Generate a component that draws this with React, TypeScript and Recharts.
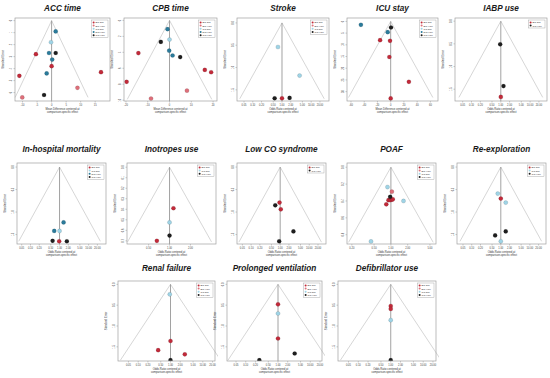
import { ScatterChart, Scatter, XAxis, YAxis, ReferenceLine } from "recharts";

// comparison groups shown in the legends
const comparisons = ["BC-DN", "BC-HTK", "CC-DN", "DN-HTK", "CC-HTK"];
const comparisonColors = ["#c22a3a", "#de6f7a", "#9fd4e6", "#2b7b9b", "#1e1e1e"];

// odds-ratio axis labels (plotted on the log scale)
const orTicks = [0.05, 0.1, 0.2, 0.5, 1, 2, 5, 10, 20];

// points: [effect centered at comparison estimate, standard error, comparison index]
const accTime = [[1.4, 0.9, 3], [-0.2, 1.8, 2], [-0.9, 2.7, 3], [1.4, 2.7, 4], [-5.4, 2.8, 0], [0.2, 3.25, 3], [0, 3.8, 0], [-1.7, 4.4, 3], [-11.1, 4.6, 0], [17, 4.3, 0], [8.9, 5.6, 1], [-10.1, 6.4, 1], [-2.6, 6.2, 4]];
const cpbTime = [[-0.9, 1.1, 3], [-4, 2.7, 4], [0, 2.4, 2], [-0.15, 3.8, 3], [1.4, 4.4, 3], [4.9, 4.6, 4], [-14.3, 4.1, 0], [16.2, 6.2, 0], [19.1, 6.5, 0], [-19.7, 7.7, 0], [8, 8.8, 1], [-8.5, 9.8, 1]];
const stroke = [[-0.32, 0.54, 2], [1.39, 1.18, 2], [-0.58, 1.69, 4], [0, 1.69, 0], [0.6, 1.68, 4]];
const icuStay = [[-45, 1.45, 3], [0.5, 2.6, 4], [-4.5, 4.6, 3], [52.5, 5.8, 3], [-16, 8, 0], [-1, 8.3, 0], [-2, 15.2, 0], [27.5, 25.8, 0], [0, 32.9, 0]];
const iabpUse = [[-0.05, 0.51, 4], [0.21, 1.43, 4], [0, 1.67, 0]];
const mortality = [[0.32, 1.23, 3], [-0.42, 1.42, 3], [0, 1.42, 2], [-0.55, 1.64, 4], [-0.03, 1.65, 0], [0.58, 1.65, 4]];
const inotropes = [[0.13, 0.39, 0], [0, 0.525, 2], [0, 0.65, 4], [-0.42, 0.7, 0]];
const lowCo = [[-0.05, 0.79, 0], [-0.39, 0.85, 4], [0.05, 0.94, 0], [1.05, 1.43, 4], [-0.08, 1.65, 4]];
const poaf = [[-0.14, 0.235, 2], [0.04, 0.29, 1], [-0.03, 0.35, 4], [-0.1, 0.39, 0], [-0.03, 0.39, 0], [0.04, 0.385, 0], [0.08, 0.38, 0], [-0.19, 0.44, 0], [0.52, 0.4, 2], [-0.82, 0.88, 2]];
const reexploration = [[-0.24, 0.59, 2], [0, 0.7, 0], [0.39, 0.79, 2], [0.39, 1.43, 4], [-0.45, 1.52, 4], [0, 1.65, 2]];
const renalFailure = [[-0.05, 0.24, 2], [0, 1.36, 0], [-0.88, 1.58, 0], [1.02, 1.68, 0], [0, 1.82, 4]];
const ventilation = [[0, 0.48, 0], [0, 0.7, 2], [0, 1.3, 0], [1.19, 1.66, 4], [-1.33, 1.82, 4]];
const defibrillator = [[0, 0.52, 0], [0, 0.59, 0], [0, 0.86, 2], [0, 1.82, 4]];

const seHalf = [0, 0.5, 1, 1.5];

const panels = [
  { title: "ACC time", md: true, box: [15, 18, 95, 83], titleY: 9, x: [-12.6, 20.1], xTicks: [-10, -5, 0, 5, 10, 15], y: [-0.22, 6.7], yTicks: [0, 1, 2, 3, 4, 5, 6], seMax: 6.4, points: accTime, legend: [0, 1, 2, 3, 4] },
  { title: "CPB time", md: true, box: [124, 18, 93, 83], titleY: 9, x: [-20.9, 21.8], xTicks: [-20, -10, 0, 10, 20], y: [-0.3, 10.1], yTicks: [0, 2, 4, 6, 8, 10], seMax: 9.9, points: cpbTime, legend: [0, 1, 2, 3, 4] },
  { title: "Stroke", box: [237, 18, 92, 83], titleY: 9, x: [-3.55, 3.71], y: [-0.11, 1.75], yTicks: seHalf, seMax: 1.7, points: stroke, legend: [0, 1, 2, 4] },
  { title: "ICU stay", md: true, box: [347, 18, 91, 83], titleY: 9, x: [-66, 71.5], xTicks: [-60, -40, -20, 0, 20, 40, 60], y: [-1.45, 34], yTicks: [0, 5, 10, 15, 20, 25, 30], seMax: 32.5, points: icuStay, legend: [0, 1, 2, 3, 4] },
  { title: "IABP use", box: [455, 18, 92, 83], titleY: 9, x: [-3.6, 3.63], y: [-0.07, 1.76], yTicks: seHalf, seMax: 1.68, points: iabpUse, legend: [0, 4] },
  { title: "In-hospital mortality", box: [17, 163, 89, 81], titleY: 150, x: [-3.37, 3.68], y: [-0.09, 1.71], yTicks: seHalf, seMax: 1.65, points: mortality, legend: [0, 2, 3, 4] },
  { title: "Inotropes use", box: [127, 163, 89, 81], titleY: 150, x: [-1.41, 1.54], orTicks: [0.5, 1, 2], y: [-0.04, 0.73], yTicks: [0, 0.1, 0.2, 0.3, 0.4, 0.5, 0.6, 0.7], seMax: 0.71, points: inotropes, legend: [0, 2, 4] },
  { title: "Low CO syndrome", box: [237, 163, 89, 81], titleY: 150, x: [-3.42, 3.63], y: [-0.09, 1.71], yTicks: seHalf, seMax: 1.67, points: lowCo, legend: [0, 4] },
  { title: "POAF", box: [347, 163, 89, 81], titleY: 150, x: [-1.81, 1.86], orTicks: [0.2, 0.5, 1, 2, 5], y: [-0.05, 0.91], yTicks: [0, 0.2, 0.4, 0.6, 0.8], seMax: 0.89, points: poaf, legend: [0, 1, 2, 4] },
  { title: "Re-exploration", box: [457, 163, 89, 81], titleY: 150, x: [-3.47, 3.58], y: [-0.09, 1.71], yTicks: seHalf, seMax: 1.65, points: reexploration, legend: [0, 2, 4] },
  { title: "Renal failure", box: [118, 281, 97, 80], titleY: 269, x: [-3.74, 3.17], y: [-0.08, 1.84], yTicks: seHalf, seMax: 1.82, points: renalFailure, legend: [0, 1, 2, 4] },
  { title: "Prolonged ventilation", box: [227, 281, 95, 80], titleY: 269, x: [-3.64, 3.14], y: [-0.08, 1.84], yTicks: seHalf, seMax: 1.82, points: ventilation, legend: [0, 1, 2, 4] },
  { title: "Defibrillator use", box: [338, 281, 98, 80], titleY: 269, x: [-3.74, 3.21], y: [-0.08, 1.84], yTicks: seHalf, seMax: 1.82, points: defibrillator, legend: [0, 1, 2, 4] },
];

const PAD_L = 14;
const PAD_T = 3;
const PAD_R = 3;
const PAD_B = 13;

function Dot(props: any) {
  const { cx, cy, fill } = props;
  if (cx == null || cy == null) return <g />;
  return <circle cx={cx} cy={cy} r={2.1} fill={fill} stroke="rgba(0,0,0,0.35)" strokeWidth={0.3} />;
}

function Panel({ p }: { p: any }) {
  const [bx, by, bw, bh] = p.box;
  const W = bw + PAD_L + PAD_R;
  const H = bh + PAD_T + PAD_B;
  const xTicks = p.md
    ? p.xTicks
    : (p.orTicks || orTicks).map((v: number) => Math.log(v)).filter((v: number) => v >= p.x[0] && v <= p.x[1]);
  const fmtX = (v: number) => (p.md ? String(v) : Math.exp(v).toFixed(2));
  const groups = Array.from(new Set([...p.legend, ...p.points.map((d: number[]) => d[2])])) as number[];
  const half = 1.96 * p.seMax;
  const legendW = 7 + Math.max(...p.legend.map((g: number) => comparisons[g].length)) * 1.6;

  return (
    <>
      <div
        style={{
          position: "absolute",
          left: bx - 20,
          width: bw + 40,
          top: p.titleY - 5,
          height: 10,
          lineHeight: "10px",
          textAlign: "center",
          fontWeight: 700,
          fontStyle: "italic",
          fontSize: 8.2,
          color: "#1a1a1a",
          whiteSpace: "nowrap",
        }}
      >
        {p.title}
      </div>
      <div style={{ position: "absolute", left: bx - PAD_L, top: by - PAD_T, width: W, height: H }}>
        <ScatterChart width={W} height={H} margin={{ top: PAD_T, right: PAD_R, left: 0, bottom: 0 }}>
          <XAxis
            type="number"
            dataKey="x"
            domain={p.x}
            ticks={xTicks}
            interval={0}
            allowDataOverflow
            tickFormatter={fmtX}
            axisLine={false}
            tickLine={{ stroke: "#777", strokeWidth: 0.4 }}
            tickSize={1.5}
            tick={{ fontSize: 2.6, fill: "#444" }}
            height={PAD_B}
          />
          <YAxis
            type="number"
            dataKey="y"
            domain={p.y}
            reversed
            ticks={p.yTicks}
            interval={0}
            allowDataOverflow
            axisLine={false}
            tickLine={{ stroke: "#777", strokeWidth: 0.4 }}
            tickSize={1.5}
            width={PAD_L}
            tick={(t: any) => (
              <text
                x={t.x + 0.5}
                y={t.y}
                fontSize={2.6}
                fill="#444"
                textAnchor="middle"
                transform={`rotate(-90 ${t.x + 0.5} ${t.y})`}
              >
                {t.payload.value.toFixed(p.md ? 0 : 1)}
              </text>
            )}
          />
          <ReferenceLine
            segment={[{ x: 0, y: 0 }, { x: -half, y: p.seMax }]}
            stroke="#cccccc"
            strokeWidth={0.8}
            ifOverflow="visible"
          />
          <ReferenceLine
            segment={[{ x: 0, y: 0 }, { x: half, y: p.seMax }]}
            stroke="#cccccc"
            strokeWidth={0.8}
            ifOverflow="visible"
          />
          <ReferenceLine
            segment={[{ x: 0, y: 0 }, { x: 0, y: p.y[1] }]}
            stroke="#8a8a8a"
            strokeWidth={0.8}
            ifOverflow="visible"
          />
          {groups.map((g) => (
            <Scatter
              key={g}
              name={comparisons[g]}
              data={p.points.filter((d: number[]) => d[2] === g).map((d: number[]) => ({ x: d[0], y: d[1] }))}
              fill={comparisonColors[g]}
              shape={<Dot />}
              isAnimationActive={false}
            />
          ))}
        </ScatterChart>
        <svg width={W} height={H} style={{ position: "absolute", left: 0, top: 0, pointerEvents: "none" }}>
          <rect x={PAD_L} y={PAD_T} width={bw} height={bh} fill="none" stroke="#a0a0a0" strokeWidth={0.7} />
          <text
            x={3}
            y={PAD_T + bh / 2}
            fontSize={2.8}
            fill="#333"
            textAnchor="middle"
            transform={`rotate(-90 3 ${PAD_T + bh / 2})`}
          >
            Standard Error
          </text>
          <text x={PAD_L + bw / 2} y={PAD_T + bh + 8.5} fontSize={2.7} fill="#333" textAnchor="middle">
            {p.md ? "Mean Difference centered at" : "Odds Ratio centered at"}
          </text>
          <text x={PAD_L + bw / 2} y={PAD_T + bh + 11.5} fontSize={2.7} fill="#333" textAnchor="middle">
            comparison-specific effect
          </text>
          <g transform={`translate(${PAD_L + bw - 2 - legendW} ${PAD_T + 2})`}>
            <rect width={legendW} height={p.legend.length * 3.2 + 1.6} fill="#fff" stroke="#999" strokeWidth={0.4} />
            {p.legend.map((g: number, i: number) => (
              <g key={g}>
                <circle cx={2.2} cy={2.4 + i * 3.2} r={1} fill={comparisonColors[g]} />
                <text x={4.2} y={3.3 + i * 3.2} fontSize={2.5} fill="#333">
                  {comparisons[g]}
                </text>
              </g>
            ))}
          </g>
        </svg>
      </div>
    </>
  );
}

export default function App() {
  return (
    <div
      style={{
        position: "absolute",
        left: 0,
        top: 0,
        width: 550,
        height: 378,
        background: "#fff",
        fontFamily: "'Liberation Sans', Arial, sans-serif",
      }}
    >
      {panels.map((p) => (
        <Panel key={p.title} p={p} />
      ))}
    </div>
  );
}
